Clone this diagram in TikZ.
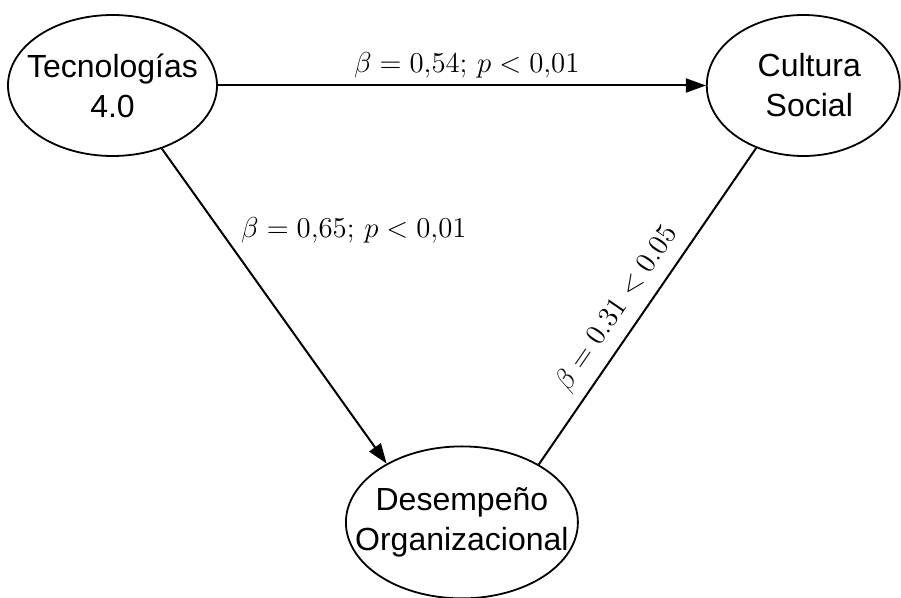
\documentclass[tikz,border=0pt]{standalone}
\usepackage[no-math]{fontspec}
\setmainfont{Liberation Sans}
\usetikzlibrary{positioning,arrows.meta,calc,shapes.geometric}

\begin{document}
\begin{tikzpicture}[x=0.5pt,y=-0.5pt,
      var/.style={ellipse,draw,line width=0.9pt,inner sep=0pt,
                  minimum width=104.5pt,minimum height=70.5pt},
      txt/.style={align=center,font=\fontsize{16}{20}\selectfont},
      fl/.style={-{Triangle[length=10pt,width=7pt]},line width=1pt},
      et/.style={font=\fontsize{15}{18}\selectfont,inner sep=2pt}]
    \useasboundingbox (0,0) rectangle (901,598);
    \node[var,label={[txt]center:Tecnologías\\4.0}] (tec) at (112.5,85.5) {};
    \node[var,minimum width=96.5pt,right=244pt of tec,
          label={[txt,xshift=3pt]center:Cultura\\Social}] (cult) {};
    \coordinate (mitad) at ($(tec)!0.5!(cult)$);
    \node[var,minimum width=116pt,minimum height=76pt,below=180pt of mitad,xshift=2pt,
          label={[txt]center:Desempeño\\Organizacional}] (des) {};
    \draw[fl] (tec) -- node[et,above=1pt,pos=0.51] {$\beta=0{,}54;\,p<0{,}01$} (cult);
    \draw[fl] (tec.-52) -- node[et,right=8pt,pos=0.26] {$\beta=0{,}65;\,p<0{,}01$} (des.142);
    \draw[line width=1pt] (des.37) -- node[et,sloped,above=3pt,pos=0.45] {$\beta=0.31<0.05$} (cult.233);
\end{tikzpicture}
\end{document}
